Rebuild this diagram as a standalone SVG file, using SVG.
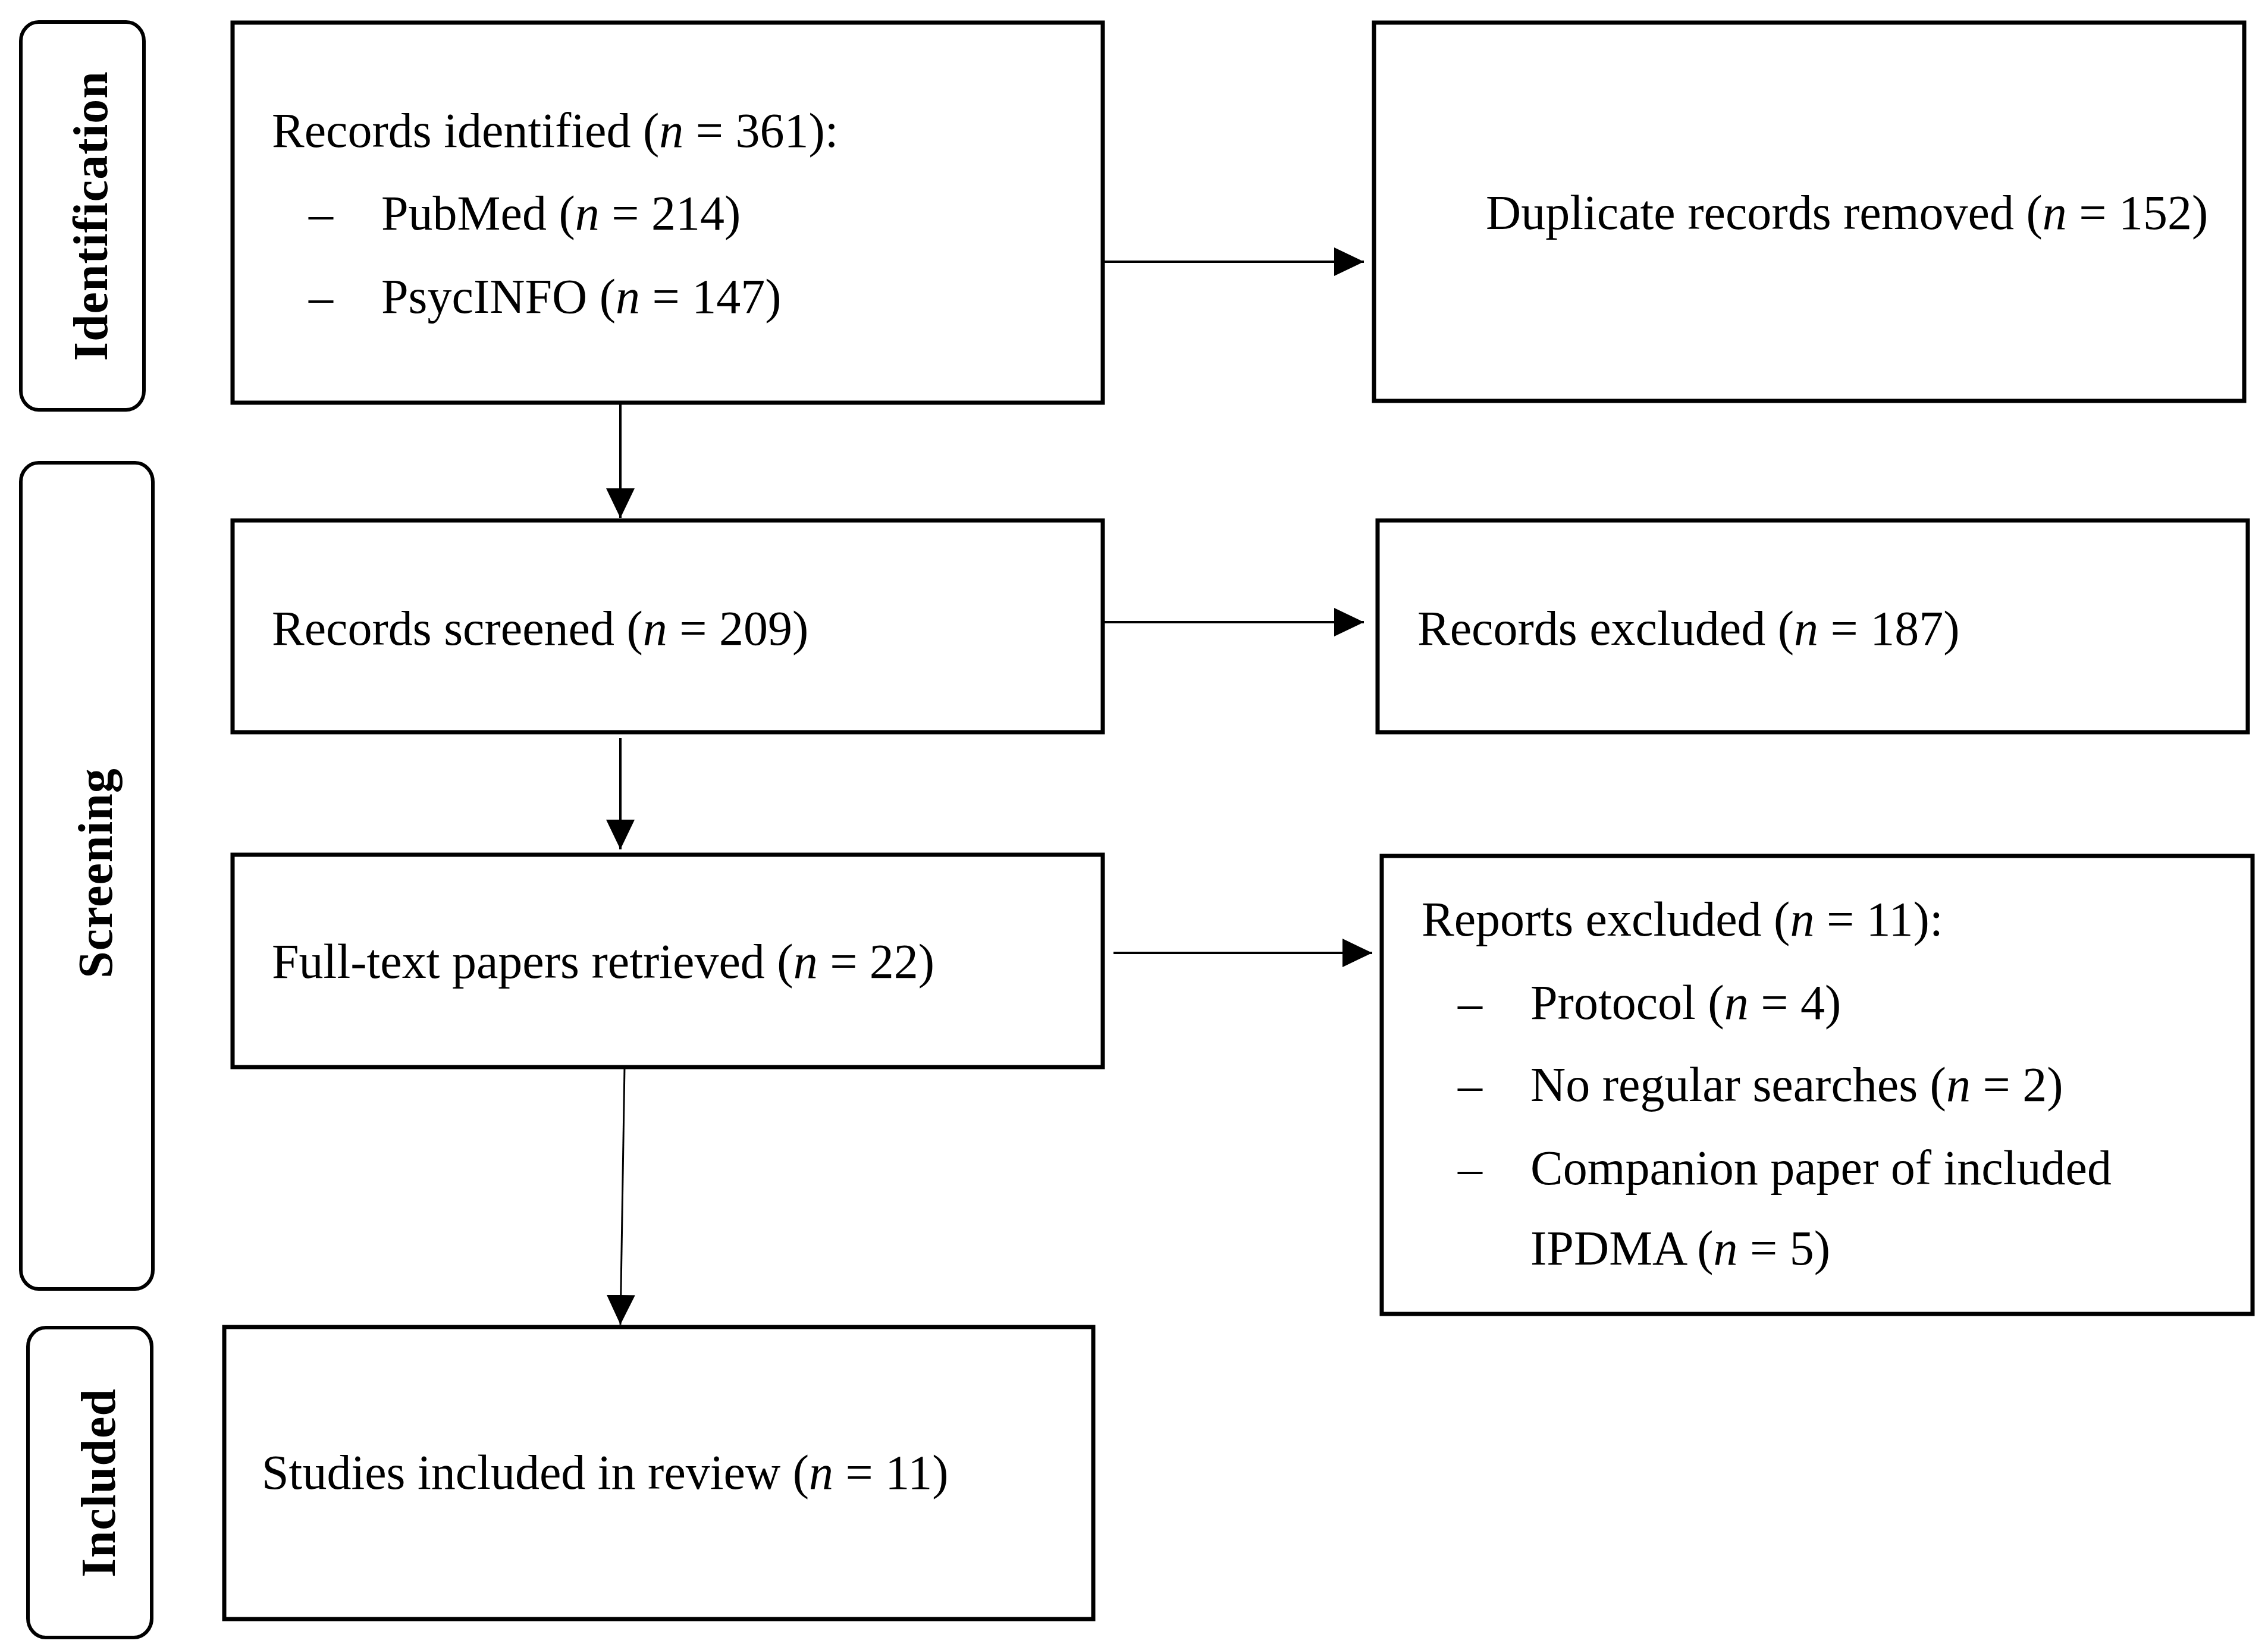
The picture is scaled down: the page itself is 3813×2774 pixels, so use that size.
<svg xmlns="http://www.w3.org/2000/svg" width="3813" height="2774" viewBox="0 0 3813 2774">
<style>
.box{fill:#fff;stroke:#000;stroke-width:7}
.tab{fill:#fff;stroke:#000;stroke-width:6}
.t{font-family:"Liberation Serif","Times New Roman",serif;font-size:82px;fill:#000}
.tt{font-family:"Liberation Serif","Times New Roman",serif;font-size:82px;font-weight:bold;fill:#000;text-anchor:middle;letter-spacing:1px}
.i{font-style:italic}
.c{fill:none;stroke:#000;stroke-width:4}
.c2{fill:none;stroke:#000;stroke-width:3}
</style>
<defs>
<marker id="ah" markerUnits="userSpaceOnUse" markerWidth="52" markerHeight="50" refX="50" refY="24" orient="auto">
<path d="M0,0 L50,24 L0,48 z" fill="#000"/>
</marker>
</defs>
<rect width="3813" height="2774" fill="#fff"/>
<g id="tab-identification">
<rect class="tab" x="35" y="37" width="207" height="652" rx="30" ry="32"/>
<text class="tt" x="180" y="363" transform="rotate(-90 180 363)">Identification</text>
</g>
<g id="tab-screening">
<rect class="tab" x="35" y="778" width="222" height="1389" rx="30" ry="32"/>
<text class="tt" x="188" y="1468" transform="rotate(-90 188 1468)">Screening</text>
</g>
<g id="tab-included">
<rect class="tab" x="47" y="2232" width="208" height="521" rx="30" ry="32"/>
<text class="tt" x="193" y="2493" transform="rotate(-90 193 2493)">Included</text>
</g>
<g id="node-identified">
<rect class="box" x="391" y="38" width="1463" height="639"/>
<text class="t" x="457" y="247">Records identified (<tspan class="i">n</tspan> = 361):</text>
<text class="t" x="519" y="386">–</text>
<text class="t" x="641" y="386">PubMed (<tspan class="i">n</tspan> = 214)</text>
<text class="t" x="519" y="526">–</text>
<text class="t" x="641" y="526">PsycINFO (<tspan class="i">n</tspan> = 147)</text>
</g>
<g id="node-duplicates">
<rect class="box" x="2310" y="38" width="1463" height="636"/>
<text class="t" x="2498" y="385">Duplicate records removed (<tspan class="i">n</tspan> = 152)</text>
</g>
<g id="node-screened">
<rect class="box" x="391" y="875" width="1463" height="356"/>
<text class="t" x="457" y="1084">Records screened (<tspan class="i">n</tspan> = 209)</text>
</g>
<g id="node-records-excluded">
<rect class="box" x="2316" y="875" width="1463" height="356"/>
<text class="t" x="2383" y="1084">Records excluded (<tspan class="i">n</tspan> = 187)</text>
</g>
<g id="node-fulltext">
<rect class="box" x="391" y="1437" width="1463" height="357"/>
<text class="t" x="457" y="1644">Full-text papers retrieved (<tspan class="i">n</tspan> = 22)</text>
</g>
<g id="node-reports-excluded">
<rect class="box" x="2323" y="1439" width="1464" height="770"/>
<text class="t" x="2390" y="1573">Reports excluded (<tspan class="i">n</tspan> = 11):</text>
<text class="t" x="2451" y="1713">–</text>
<text class="t" x="2573" y="1713">Protocol (<tspan class="i">n</tspan> = 4)</text>
<text class="t" x="2451" y="1851">–</text>
<text class="t" x="2573" y="1851">No regular searches (<tspan class="i">n</tspan> = 2)</text>
<text class="t" x="2451" y="1991">–</text>
<text class="t" x="2573" y="1991">Companion paper of included</text>
<text class="t" x="2573" y="2126">IPDMA (<tspan class="i">n</tspan> = 5)</text>
</g>
<g id="node-included">
<rect class="box" x="377" y="2231" width="1461" height="491"/>
<text class="t" x="440" y="2503">Studies included in review (<tspan class="i">n</tspan> = 11)</text>
</g>
<g id="connectors">
<line class="c" x1="1854" y1="440" x2="2293" y2="440" marker-end="url(#ah)"/>
<line class="c" x1="1043" y1="677" x2="1043" y2="871" marker-end="url(#ah)"/>
<line class="c" x1="1854" y1="1046" x2="2293" y2="1046" marker-end="url(#ah)"/>
<line class="c" x1="1043" y1="1241" x2="1043" y2="1428" marker-end="url(#ah)"/>
<line class="c" x1="1872" y1="1602" x2="2307" y2="1602" marker-end="url(#ah)"/>
<line class="c2" x1="1050" y1="1794" x2="1043" y2="2227" marker-end="url(#ah)"/>
</g>
</svg>
